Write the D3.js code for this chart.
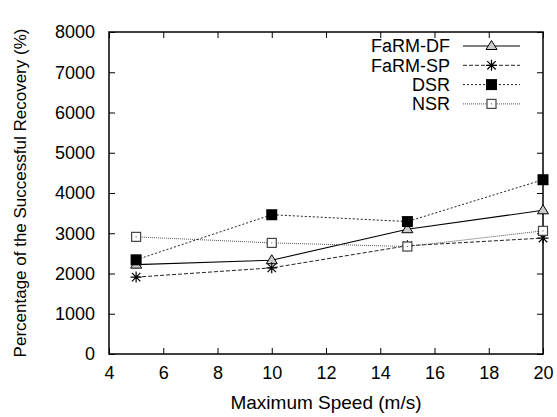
<!DOCTYPE html>
<html>
<head>
<meta charset="utf-8">
<script src="https://cdn.jsdelivr.net/npm/d3@7/dist/d3.min.js"></script>
<style>
  body { margin: 0; background: #fff; }
  text { font-family: "Liberation Sans", Arial, sans-serif; fill: #000; }
</style>
</head>
<body>
<svg id="chart" width="557" height="417"></svg>
<script>
var speeds = [5, 10, 15, 20];
var seriesNames = ["FaRM-DF", "FaRM-SP", "DSR", "NSR"];
var farmDF = [2220, 2330, 3100, 3570];
var farmSP = [1910, 2140, 2690, 2880];
var dsr = [2340, 3460, 3290, 4330];
var nsr = [2910, 2760, 2670, 3060];
var xTicks = [4, 6, 8, 10, 12, 14, 16, 18, 20];
var yTicks = [0, 1000, 2000, 3000, 4000, 5000, 6000, 7000, 8000];

var svg = d3.select("#chart"),
    margin = { top: 32, right: 14, bottom: 63, left: 109 },
    width = +svg.attr("width") - margin.left - margin.right,
    height = +svg.attr("height") - margin.top - margin.bottom;

var x = d3.scaleLinear().domain([4, 20]).range([0, width]),
    y = d3.scaleLinear().domain([0, 8000]).range([height, 0]);

var g = svg.append("g")
    .attr("transform", "translate(" + margin.left + "," + margin.top + ")");

var styles = [
    { dash: null, color: "#000", width: 1.1, marker: "triangle" },
    { dash: "4,2", color: "#222", width: 1, marker: "star" },
    { dash: "2,2", color: "#222", width: 1, marker: "filled" },
    { dash: "1,1", color: "#555", width: 1, marker: "open" }
];
var values = [farmDF, farmSP, dsr, nsr];

function drawMarker(sel, type, cx, cy) {
    if (type === "triangle") {
        sel.append("path")
            .attr("d", "M" + cx + "," + (cy - 5.5) + "L" + (cx + 5.5) + "," + (cy + 3.5) + "L" + (cx - 5.5) + "," + (cy + 3.5) + "Z")
            .attr("fill", "#ccc").attr("stroke", "#000").attr("stroke-width", 1);
    } else if (type === "star") {
        var r = 5.5, d = 4.2, p = "";
        p += "M" + (cx - r) + "," + cy + "L" + (cx + r) + "," + cy;
        p += "M" + cx + "," + (cy - r) + "L" + cx + "," + (cy + r);
        p += "M" + (cx - d) + "," + (cy - d) + "L" + (cx + d) + "," + (cy + d);
        p += "M" + (cx - d) + "," + (cy + d) + "L" + (cx + d) + "," + (cy - d);
        sel.append("path").attr("d", p).attr("stroke", "#000").attr("stroke-width", 1.2).attr("fill", "none");
    } else if (type === "filled") {
        sel.append("rect").attr("x", cx - 5.5).attr("y", cy - 5.5).attr("width", 11).attr("height", 11).attr("fill", "#000");
    } else {
        sel.append("rect").attr("x", cx - 4.5).attr("y", cy - 4.5).attr("width", 9).attr("height", 9)
            .attr("fill", "#fff").attr("stroke", "#444").attr("stroke-width", 1.2);
        sel.append("rect").attr("x", cx - 0.5).attr("y", cy - 0.5).attr("width", 1).attr("height", 1).attr("fill", "#444");
    }
}

// frame
g.append("rect").attr("width", width).attr("height", height)
    .attr("fill", "none").attr("stroke", "#000").attr("stroke-width", 1.5);

// axes with inward ticks, mirrored
g.append("g").attr("transform", "translate(0," + height + ")")
    .call(d3.axisBottom(x).tickValues(xTicks).tickSizeInner(-6).tickSizeOuter(0).tickPadding(12))
    .call(function (s) { s.select(".domain").remove(); });
g.append("g")
    .call(d3.axisTop(x).tickValues(xTicks).tickSizeInner(-6).tickSizeOuter(0).tickFormat(""))
    .call(function (s) { s.select(".domain").remove(); });
g.append("g")
    .call(d3.axisLeft(y).tickValues(yTicks).tickSizeInner(-6).tickSizeOuter(0).tickPadding(14).tickFormat(d3.format("d")))
    .call(function (s) { s.select(".domain").remove(); });
g.append("g").attr("transform", "translate(" + width + ",0)")
    .call(d3.axisRight(y).tickValues(yTicks).tickSizeInner(-6).tickSizeOuter(0).tickFormat(""))
    .call(function (s) { s.select(".domain").remove(); });

g.selectAll(".tick line").attr("stroke", "#000");
g.selectAll(".tick text").style("font-size", "18px");

// series
var line = d3.line().x(function (d, i) { return x(speeds[i]); }).y(function (d) { return y(d); });
values.forEach(function (vals, k) {
    var st = styles[k];
    g.append("path").datum(vals)
        .attr("d", line).attr("fill", "none")
        .attr("stroke", st.color).attr("stroke-width", st.width)
        .attr("stroke-dasharray", st.dash);
});
values.forEach(function (vals, k) {
    var mg = g.append("g");
    vals.forEach(function (v, i) { drawMarker(mg, styles[k].marker, x(speeds[i]), y(v)); });
});

// legend
var legend = svg.append("g");
seriesNames.forEach(function (name, k) {
    var st = styles[k], ly = 46 + k * 19.3;
    legend.append("text").attr("x", 450).attr("y", ly).attr("dy", "0.35em")
        .attr("text-anchor", "end").style("font-size", "18px").text(name);
    legend.append("line").attr("x1", 463).attr("x2", 520).attr("y1", ly).attr("y2", ly)
        .attr("stroke", st.color).attr("stroke-width", st.width).attr("stroke-dasharray", st.dash);
    drawMarker(legend, st.marker, 491.5, ly);
});

// axis labels
svg.append("text").attr("x", margin.left + width / 2).attr("y", 402).attr("dy", "0.35em")
    .attr("text-anchor", "middle").style("font-size", "19px").text("Maximum Speed (m/s)");
svg.append("text").attr("transform", "translate(20," + (margin.top + height / 2) + ") rotate(-90)")
    .attr("dy", "0.35em").attr("text-anchor", "middle").style("font-size", "17px")
    .text("Percentage of the Successful Recovery (%)");
</script>
</body>
</html>
